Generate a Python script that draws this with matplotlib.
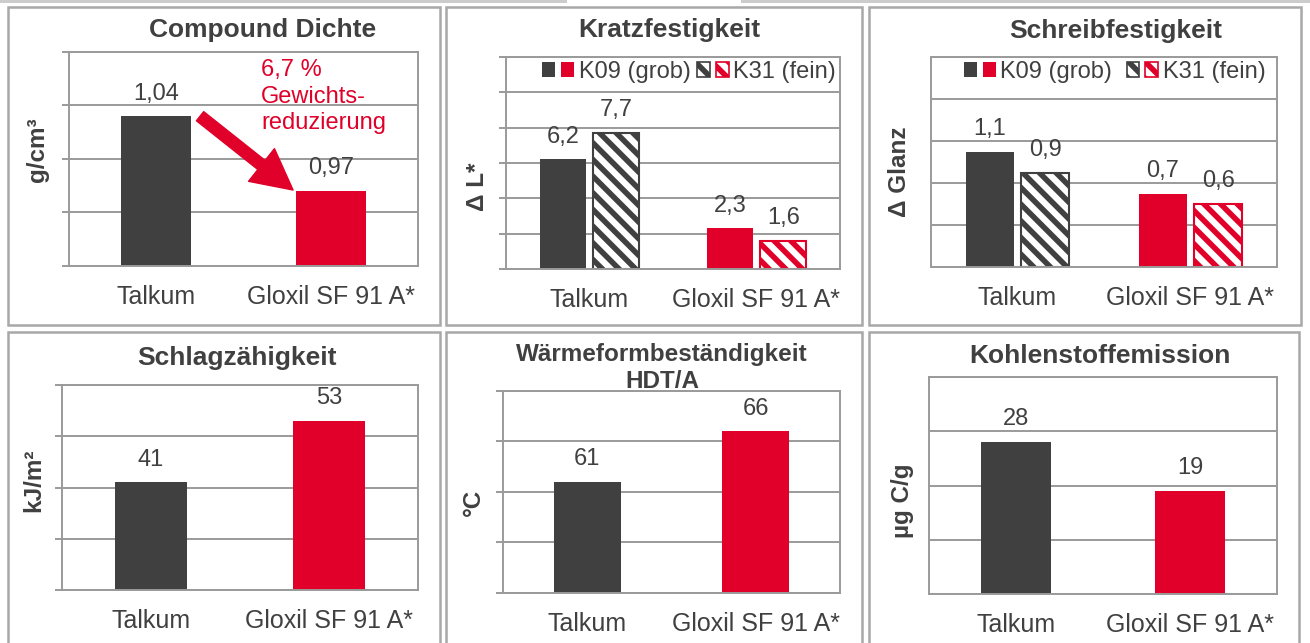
import matplotlib
matplotlib.use("Agg")
import numpy as np
import matplotlib.pyplot as plt
from matplotlib.patches import Rectangle, Patch
from matplotlib.legend_handler import HandlerTuple

plt.rcParams['font.family'] = ['Liberation Sans', 'DejaVu Sans']
plt.rcParams['hatch.linewidth'] = 4.0

W, H = 1310, 643
DARK = '#404040'
RED = '#E00029'
GRID = '#9a9a9a'
FRAME = '#a8a8a8'
TXT = '#404040'
HATCH = '\\\\'

# data
categories = ["Talkum", "Gloxil SF 91 A*"]
cat_colors = [DARK, RED]
legend_labels = ["K09 (grob)", "K31 (fein)"]

dichte = [1.04, 0.97]
kratz_k09 = [6.2, 2.3]
kratz_k31 = [7.7, 1.6]
schreib_k09 = [1.1, 0.7]
schreib_k31 = [0.9, 0.6]
schlag = [41, 53]
hdt = [61, 66]
emission = [28, 19]

fig = plt.figure(figsize=(W / 100, H / 100), dpi=100)


def fx(x):
    return x / W


def fy(y):
    return 1 - y / H


def px_axes(left, top, right, bottom):
    return fig.add_axes([fx(left), fy(bottom), (right - left) / W, (bottom - top) / H])


def frame(left, top, right, bottom):
    fig.add_artist(Rectangle((fx(left), fy(bottom)), (right - left) / W, (bottom - top) / H,
                             transform=fig.transFigure, fill=False, edgecolor=FRAME, lw=1.8))


def de(v, nd):
    return f"{v:.{nd}f}".replace('.', ',')


def setup_axis(ax, ymin, ymax, step, ticklen):
    ax.set_xlim(-0.5, 1.5)
    ax.set_ylim(ymin, ymax)
    ax.set_yticks(np.arange(ymin, ymax + step / 2, step))
    ax.yaxis.set_ticklabels([])
    ax.grid(axis='y', color=GRID, lw=1.4)
    ax.set_axisbelow(True)
    for s in ax.spines.values():
        s.set_color(GRID)
        s.set_linewidth(1.4)
    ax.tick_params(axis='y', direction='out', length=ticklen, color=GRID, width=1.4)
    ax.set_xticks(range(len(categories)))
    ax.set_xticklabels(categories, fontsize=18, color=TXT)
    ax.tick_params(axis='x', length=0, pad=14)


def label_bars(ax, bars, values, nd):
    for b, v in zip(bars, values):
        ax.annotate(de(v, nd), (b.get_x() + b.get_width() / 2, v), xytext=(0, 12),
                    textcoords='offset points', ha='center', va='baseline',
                    fontsize=17, color=TXT)


def single_bars(ax, values, nd):
    x = np.arange(len(categories))
    bars = ax.bar(x, values, width=0.4, color=cat_colors)
    label_bars(ax, bars, values, nd)


def grouped_bars(ax, k09, k31, leg_x, leg_y, colspace):
    x = np.arange(len(categories))
    w, off = 0.275, 0.16
    b1 = ax.bar(x - off, k09, width=w, color=cat_colors)
    b2 = ax.bar(x + off, k31, width=w, color='white', edgecolor=cat_colors,
                hatch=HATCH, linewidth=1.5)
    label_bars(ax, b1, k09, 1)
    label_bars(ax, b2, k31, 1)
    h09 = (Patch(facecolor=DARK), Patch(facecolor=RED))
    h31 = (Patch(facecolor='white', edgecolor=DARK, hatch=HATCH, lw=1.2),
           Patch(facecolor='white', edgecolor=RED, hatch=HATCH, lw=1.2))
    ax.legend([h09, h31], legend_labels,
              handler_map={tuple: HandlerTuple(ndivide=None, pad=0.25)},
              ncol=2, loc='center left', bbox_to_anchor=(leg_x, leg_y), frameon=False,
              fontsize=17, handlelength=1.35, handleheight=0.58, handletextpad=0.2,
              columnspacing=colspace, borderpad=0, borderaxespad=0, labelcolor=TXT)


def title(cx, base, text, size=19):
    fig.text(fx(cx), fy(base), text, ha='center', va='baseline', fontsize=size,
             weight='bold', color=TXT)


def ylab(cx, cy, text):
    fig.text(fx(cx), fy(cy), text, ha='center', va='center', rotation=90,
             fontsize=17.5, weight='bold', color=TXT)


# light strip at the top edge
for x0, x1 in [(0, 567), (741, W)]:
    fig.add_artist(Rectangle((fx(x0), fy(3)), (x1 - x0) / W, 3 / H, transform=fig.transFigure,
                             color='#cccccc', lw=0))

# panel frames
frame(8, 7, 440, 325)
frame(446, 7, 862, 325)
frame(869, 7, 1301, 325)
frame(8, 332, 440, 660)
frame(446, 332, 862, 660)
frame(869, 332, 1299, 660)

# Compound Dichte
ax1 = px_axes(69, 52, 418, 266)
setup_axis(ax1, 0.90, 1.10, 0.05, 5)
single_bars(ax1, dichte, 2)
ax1.annotate("", xy=(0.784, 0.971), xytext=(0.251, 1.040),
             arrowprops=dict(arrowstyle='simple,head_length=1.45,head_width=1.5,tail_width=0.42',
                             color=RED, mutation_scale=20, shrinkA=0, shrinkB=0))
ax1.text(0.60, 1.093, "6,7 %\nGewichts-\nreduzierung", ha='left', va='top',
         fontsize=17, color=RED, linespacing=1.25)
title(263, 37, "Compound Dichte")
ylab(37, 150, "g/cm³")

# Kratzfestigkeit
ax2 = px_axes(506, 57, 840, 269)
setup_axis(ax2, 0, 12, 2, 5)
grouped_bars(ax2, kratz_k09, kratz_k31, 0.108, 0.929, 0.26)
title(669, 37, "Kratzfestigkeit")
ylab(477, 187, "Δ L*")

# Schreibfestigkeit
ax3 = px_axes(931, 57, 1277, 267)
setup_axis(ax3, 0, 2.0, 0.4, 0)
grouped_bars(ax3, schreib_k09, schreib_k31, 0.095, 0.929, 0.6)
title(1116, 38, "Schreibfestigkeit")
ylab(899, 172, "Δ Glanz")

# Schlagzähigkeit
ax4 = px_axes(62, 385, 418, 590)
setup_axis(ax4, 20, 60, 10, 5)
single_bars(ax4, schlag, 0)
title(237, 365, "Schlagzähigkeit")
ylab(34, 480, "kJ/m²")

# Wärmeformbeständigkeit
ax5 = px_axes(503, 391, 840, 593)
setup_axis(ax5, 50, 70, 5, 5)
single_bars(ax5, hdt, 0)
title(662, 361, "Wärmeformbeständigkeit", size=17.5)
title(662, 388, "HDT/A", size=17.5)
ylab(473, 502, "°C")

# Kohlenstoffemission
ax6 = px_axes(929, 377, 1277, 594)
setup_axis(ax6, 0, 40, 10, 0)
single_bars(ax6, emission, 0)
title(1100, 363, "Kohlenstoffemission")
ylab(902, 501, "µg C/g")

fig.savefig("out.png", dpi=100)
